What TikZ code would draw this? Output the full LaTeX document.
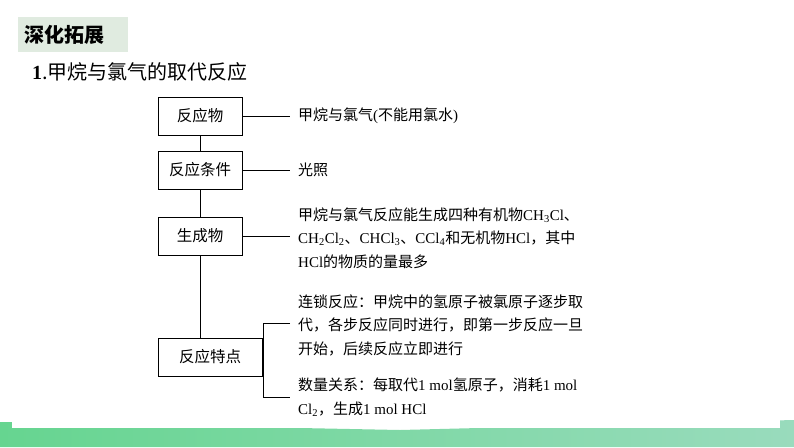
\documentclass[tikz,border=0pt]{standalone}
\usepackage{fontspec}
\setmainfont{Noto Sans CJK SC}
\newfontfamily\lat{Liberation Serif}
\newcommand{\sbs}[1]{\textsubscript{#1}}
\begin{document}
\begin{tikzpicture}[x=1pt,y=-1pt,
  box/.style={draw,line width=0.8pt,minimum height=38pt,font=\fontsize{15.5}{18}\selectfont,inner sep=0pt},
  txt/.style={anchor=west,font=\fontsize{15}{23.5}\selectfont,align=left,inner sep=0pt},
  ln/.style={line width=0.8pt}]
\useasboundingbox (0,0) rectangle (794,447);
\fill[white] (0,0) rectangle (794,447);
\shade[left color=green!45!teal!60, right color=green!30!teal!40] (0,422) -- (400,430) -- (794,420) -- (794,447) -- (0,447) -- cycle;
\fill[white] (12,416) rectangle (780,428);
\fill[green!20!gray!20] (18,17) rectangle (128,52);
\node[anchor=west,font=\fontsize{20}{20}\selectfont\bfseries,inner sep=0pt] (t1) at (24,35) {深化拓展};
\node[anchor=west,font=\fontsize{20}{20}\selectfont,inner sep=0pt] (t2) at (32,72) {{\lat\bfseries 1}.甲烷与氯气的取代反应};
\node[box,minimum width=84pt] (b1) at (200,116) {反应物};
\node[box,minimum width=84pt] (b2) at (200,170) {反应条件};
\node[box,minimum width=84pt] (b3) at (200,236) {生成物};
\node[box,minimum width=104pt] (b4) at (210,357) {反应特点};
\draw[ln] (b1) -- (b2); \draw[ln] (b2) -- (b3); \draw[ln] (b3.south) -- (b3.south |- b4.north);
\node[txt] (x1) at (298,116) {甲烷与氯气{\lat(}不能用氯水{\lat)}};
\node[txt] (x2) at (298,170) {光照};
\node[txt] (x3) at (298,238) {甲烷与氯气反应能生成四种有机物{\lat CH\sbs{3}Cl}、\\{\lat CH\sbs{2}Cl\sbs{2}}、{\lat CHCl\sbs{3}}、{\lat CCl\sbs{4}}和无机物{\lat HCl}，其中\\{\lat HCl}的物质的量最多};
\node[txt] (x4) at (298,325) {连锁反应：甲烷中的氢原子被氯原子逐步取\\代，各步反应同时进行，即第一步反应一旦\\开始，后续反应立即进行};
\node[txt] (x5) at (298,397) {数量关系：每取代{\lat 1 mol}氢原子，消耗{\lat 1 mol}\\{\lat Cl\sbs{2}}，生成{\lat 1 mol HCl}};
\coordinate (e1) at (290,116); \coordinate (e2) at (290,170); \coordinate (e3) at (290,236);
\draw[ln] (b1.east) -- (e1); \draw[ln] (b2.east) -- (e2); \draw[ln] (b3.east) -- (e3);
\coordinate (u) at (290,323); \coordinate (d) at (290,397);
\draw[ln] (u) -- (263,323) -- (263,397) -- (d);
\end{tikzpicture}
\end{document}
